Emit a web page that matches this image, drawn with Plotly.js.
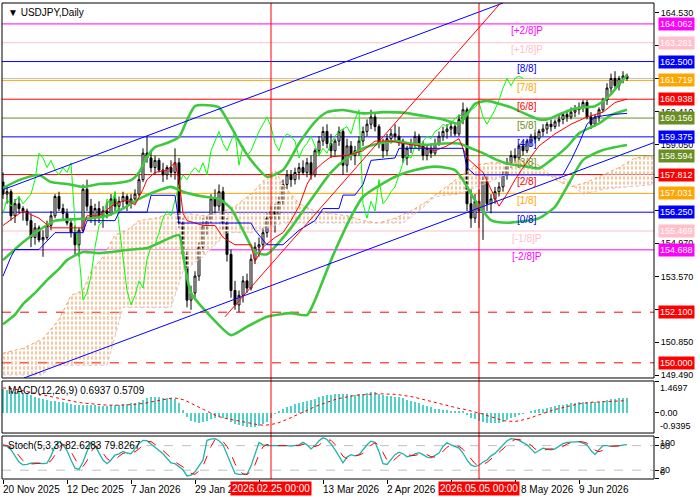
<!DOCTYPE html>
<html><head><meta charset="utf-8">
<script src="https://cdn.plot.ly/plotly-3.0.1.min.js"></script>
<style>html,body{margin:0;padding:0;background:#fff}#chart{width:700px;height:500px}</style>
</head><body><div id="chart"></div>
<script>
// ---------- price data (daily bars, index 0 = 20 Nov 2025) ----------
const open=[157.5,157.0,157.1,156.1,156.6,156.4,156.3,155.9,155.2,155.6,
155.1,155.2,155.7,156.1,156.9,156.4,156.2,155.8,155.4,154.9,
155.5,157.2,156.5,156.0,156.4,156.1,156.3,156.2,156.8,156.5,
156.7,156.9,156.6,156.8,157.0,157.6,158.7,158.5,158.1,158.4,
158.0,157.8,158.1,157.9,158.3,155.8,154.5,152.6,152.9,153.6,
154.8,155.7,155.9,156.8,156.5,157.1,155.8,154.5,153.0,152.4,
152.8,153.4,153.1,154.3,154.8,154.9,155.4,156.0,156.3,156.1,
156.7,157.4,157.8,157.6,157.9,158.1,157.9,158.3,157.8,158.8,
159.2,159.6,159.1,158.8,159.2,159.6,158.2,159.0,158.6,158.8,
159.2,159.6,159.9,160.2,159.8,159.1,158.8,159.3,159.5,159.4,
159.2,158.5,158.9,159.1,159.4,159.0,158.6,158.9,158.7,159.1,
159.4,159.6,159.7,159.8,159.5,160.1,160.5,156.6,156.0,156.7,
156.3,157.6,156.6,156.8,157.1,157.3,157.8,158.3,158.6,158.5,
159.0,158.8,159.2,159.4,159.3,159.6,159.7,159.9,159.8,160.0,
160.1,160.3,160.2,160.4,160.5,160.6,160.8,160.2,159.9,160.2,
160.5,160.9,161.4,161.8,161.5,161.8,161.9];
const high=[157.9,157.3,157.2,156.8,156.9,156.5,156.4,156.2,155.8,155.7,
155.5,155.9,156.3,157.0,157.1,156.6,156.4,156.0,155.7,155.6,
157.4,157.6,156.8,156.6,156.7,156.5,156.7,157.0,157.1,156.9,
157.1,157.0,157.0,157.2,157.8,158.9,159.4,158.8,158.6,158.5,
158.3,158.2,158.4,158.9,158.5,156.0,154.7,153.2,153.8,155.0,
156.0,156.1,157.0,157.2,157.4,157.3,156.0,154.7,153.4,153.0,
153.6,153.7,154.5,155.0,155.2,155.6,156.2,156.5,156.6,156.9,
157.6,158.0,158.0,158.1,158.3,158.4,158.5,158.6,158.9,159.4,
159.8,159.9,159.5,159.3,159.8,159.7,159.3,159.2,159.0,159.4,
159.8,160.1,160.5,160.4,159.9,159.3,159.5,159.7,159.9,159.8,
159.3,159.0,159.3,159.6,159.5,159.2,159.0,159.1,159.3,159.6,
159.8,159.9,160.0,159.9,160.3,160.8,160.6,157.2,157.0,157.2,
157.8,157.8,157.0,157.3,157.5,158.0,158.5,158.8,158.9,159.1,
159.2,159.3,159.5,159.6,159.7,159.9,160.0,160.1,160.1,160.3,
160.4,160.5,160.6,160.7,160.8,160.9,160.9,160.4,160.3,160.6,
161.0,161.6,162.0,162.1,161.9,162.1,162.0];
const low=[156.8,156.6,155.9,155.8,156.2,155.9,155.7,154.8,154.9,155.0,
154.4,155.1,155.5,156.0,156.3,155.9,155.7,155.2,154.5,154.4,
155.4,156.3,155.8,155.7,155.8,155.6,156.0,156.1,156.3,156.2,
156.4,156.3,156.4,156.6,156.9,157.5,158.3,157.9,157.8,157.9,
157.5,157.6,157.7,157.6,155.6,154.3,152.3,152.2,152.7,153.4,
154.6,155.3,155.8,156.2,156.3,155.5,154.2,152.7,152.2,152.1,
152.5,152.9,153.0,154.1,154.4,154.7,155.2,155.7,155.4,155.9,
156.5,157.2,157.3,157.4,157.6,157.8,157.7,157.6,157.7,158.6,
159.0,158.9,158.5,158.6,159.0,157.8,157.9,158.4,158.2,158.6,
159.0,159.4,159.7,159.6,158.9,158.5,158.6,159.1,159.2,159.0,
158.3,158.2,158.7,158.9,158.8,158.4,158.4,158.5,158.6,159.0,
159.2,159.3,159.4,159.4,159.4,159.9,156.3,155.6,155.8,155.6,
155.1,156.3,156.2,156.6,156.9,157.1,157.6,158.1,158.3,158.4,
158.6,158.7,159.0,159.1,159.2,159.4,159.5,159.6,159.7,159.8,
159.9,160.0,160.1,160.2,160.3,160.4,160.1,159.7,159.8,160.0,
160.4,160.7,161.2,161.3,161.3,161.6,161.7];
const close=[157.0,157.1,156.1,156.6,156.4,156.3,155.9,155.2,155.6,155.1,
155.2,155.7,156.1,156.9,156.4,156.2,155.8,155.4,154.9,155.5,
157.2,156.5,156.0,156.4,156.1,156.3,156.2,156.8,156.5,156.7,
156.9,156.6,156.8,157.0,157.6,158.7,158.5,158.1,158.4,158.0,
157.8,158.1,157.9,158.3,155.8,154.5,152.6,152.9,153.6,154.8,
155.7,155.9,156.8,156.5,157.1,155.8,154.5,153.0,152.4,152.8,
153.4,153.1,154.3,154.8,154.9,155.4,156.0,156.3,156.1,156.7,
157.4,157.8,157.6,157.9,158.1,157.9,158.3,157.8,158.8,159.2,
159.6,159.1,158.8,159.2,159.6,158.2,159.0,158.6,158.8,159.2,
159.6,159.9,160.2,159.8,159.1,158.8,159.3,159.5,159.4,159.2,
158.5,158.9,159.1,159.4,159.0,158.6,158.9,158.7,159.1,159.4,
159.6,159.7,159.8,159.5,160.1,160.5,156.6,156.0,156.7,156.3,
157.6,156.6,156.8,157.1,157.3,157.8,158.3,158.6,158.5,159.0,
158.8,159.2,159.4,159.3,159.6,159.7,159.9,159.8,160.0,160.1,
160.3,160.2,160.4,160.5,160.6,160.8,160.2,159.9,160.2,160.5,
160.9,161.4,161.8,161.5,161.8,161.9,161.8];

// ---------- Bollinger bands (read at sample bars) ----------
const bbUpIdx=[0,4,9,12,16,20,24,28,32,34,36,38,41,44,46,48,51,54,57,60,62,66,70,74,78,81,85,90,95,100,105,110,114,116,118,121,124,127,131,134,136,139,142,145,148,150,152,154,156];
const bbUpVal=[157.25,157.58,157.79,157.5,157.42,157.3,157.42,157.45,157.58,157.9,158.54,158.95,159.12,159.37,160.07,160.65,160.69,160.6,159.8,158.9,158.41,157.72,158.0,159.1,160.0,160.4,160.49,160.35,160.4,160.38,160.25,160.1,159.93,160.3,160.75,160.87,160.75,160.6,160.3,160.1,160.1,160.3,160.5,160.6,160.65,160.85,161.15,161.55,161.94];
const bbMidIdx=[0,5,9,13,17,22,26,30,34,38,42,45,50,54,57,60,63,66,69,72,75,78,82,86,90,94,98,102,106,110,114,117,120,123,126,131,134,137,141,144,149,152,156];
const bbMidVal=[154.26,155.0,155.5,155.9,155.95,156.0,156.1,156.4,156.8,157.1,157.3,157.1,156.9,156.8,156.4,155.5,154.6,154.5,155.0,155.6,156.3,157.0,157.9,158.5,158.9,159.1,159.2,159.1,159.05,159.1,159.1,158.9,158.7,158.45,158.27,158.14,158.07,158.41,158.96,159.52,159.93,160.28,160.5];
const bbLowIdx=[0,3,5,8,11,14,16,20,24,31,36,39,44,45,47,52,57,61,66,72,76,78,82,87,90,95,99,103,108,113,115,118,122,126,134,138,141,145,150,156];
const bbLowVal=[151.6,152.0,152.44,152.9,153.43,153.9,154.26,154.6,154.55,154.68,154.76,154.97,155.3,154.5,152.9,151.91,151.15,151.5,151.91,152.06,151.98,152.6,154.26,156.06,156.89,157.45,157.79,158.0,158.14,158.0,157.58,156.75,155.92,155.81,156.0,156.47,157.3,158.41,158.83,159.04];

// ---------- Ichimoku ----------
const tenIdx=[0,5,9,12,20,21,24,28,31,33,35,36,38,41,43,44,45,46,50,53,55,58,62,63,65,68,70,72,74,76,78,80,82,86,90,93,97,100,104,108,111,114,116,120,124,126,128,130,134,138,142,146,150,153,156];
const tenVal=[155.7,156.3,156.0,155.6,155.6,156.1,156.1,156.6,156.75,156.55,157.2,157.6,157.9,158.0,158.3,157.6,156.2,155.9,155.7,155.7,155.2,154.9,154.9,154.2,154.8,155.2,155.4,155.9,156.5,157.4,158.0,158.3,158.55,158.6,158.8,159.2,159.2,159.1,159.0,158.8,159.0,159.3,158.5,157.9,156.5,157.0,157.6,158.1,159.0,159.5,159.9,160.2,160.4,160.8,160.94];
const kijIdx=[0,2,3,9,13,20,21,28,29,36,37,43,44,62,63,66,70,72,74,78,80,84,85,88,90,92,98,99,115,116,118,140,142,144,146,148,152,156];
const kijVal=[153.6,154.4,154.7,154.7,155.4,155.4,155.9,155.9,156.25,156.25,156.95,156.95,155.8,155.8,155.5,154.9,154.9,155.2,155.5,155.9,156.4,156.4,156.96,156.96,157.4,158.4,158.5,158.9,158.9,158.1,157.8,157.8,158.4,159.1,159.9,160.2,160.3,160.35];
const spanAIdx=[0,5,10,14,17,20,22,25,28,31,34,38,42,46,50,54,58,62,66,68,70,74,78,82,86,90,94,98,102,106,110,114,118,122,126,130,134,138,142,146,150,154,158,163];
const spanAVal=[150.4,150.6,151.0,151.8,152.8,153.0,153.8,154.4,155.3,155.5,155.9,156.0,156.2,156.2,156.1,156.2,156.5,157.0,157.7,158.0,157.4,156.6,156.3,156.2,156.1,155.9,155.8,156.0,156.3,156.7,157.2,157.7,158.2,158.3,158.3,158.4,158.2,157.6,157.3,157.5,157.8,158.1,158.5,158.6];
const spanBIdx=[0,10,12,26,30,42,45,50,56,62,66,70,100,104,108,114,120,126,134,140,145,150,156,163];
const spanBVal=[149.5,149.5,149.9,149.9,152.3,152.3,153.8,154.4,155.4,155.4,155.6,155.8,155.8,156.3,156.9,157.0,157.4,157.8,157.8,157.7,157.0,157.2,157.3,157.4];
const chikouShift=26;

// ---------- trend lines ----------
const chanUpIdx=[-0.25,125], chanUpPx=[157.17,164.93];
const chanLowIdx=[5.25,162.75], chanLowPx=[149.37,159.14];
const redDiagIdx=[55.5,124.25], redDiagPx=[151.91,164.9];

// ---------- Murrey levels ----------
const levelPx=[164.062,163.281,162.500,161.719,160.938,160.156,159.375,158.594,157.812,157.031,156.250,155.469,154.688];
const levelName=['[+2/8]P','[+1/8]P','[8/8]','[7/8]','[6/8]','[5/8]','[4/8]','[3/8]','[2/8]','[1/8]','[0/8]','[-1/8]P','[-2/8]P'];
const levelColor=['#ff00ff','#ffc0cb','#0000ff','#ffa500','#ff0000','#6b8e23','#0000ff','#6b8e23','#ff0000','#ffa500','#0000ff','#ffc0cb','#ff00ff'];
const dashPx=[152.100,150.000];
const bidPx=161.80;
const priceTicks=[164.53,163.17,161.79,160.41,159.05,157.69,156.33,154.97,153.57,152.21,150.85,149.49];
const priceTickText=['164.530','','','160.410','159.050','','','154.970','153.570','','150.850','149.490'];

// ---------- MACD (12,26,9) ----------
const macdMain=[1.10,1.08,1.02,0.98,0.95,0.92,0.88,0.82,0.76,0.70,
0.64,0.60,0.57,0.55,0.52,0.50,0.47,0.42,0.38,0.36,
0.38,0.38,0.36,0.35,0.34,0.34,0.33,0.35,0.36,0.37,
0.40,0.42,0.44,0.45,0.50,0.62,0.70,0.72,0.73,0.72,
0.70,0.69,0.67,0.65,0.45,0.15,-0.20,-0.35,-0.42,-0.45,
-0.40,-0.36,-0.28,-0.24,-0.18,-0.22,-0.30,-0.42,-0.52,-0.58,
-0.62,-0.66,-0.66,-0.64,-0.60,-0.52,-0.40,-0.25,-0.05,0.08,
0.18,0.28,0.34,0.40,0.46,0.50,0.55,0.58,0.64,0.72,
0.80,0.84,0.85,0.87,0.90,0.86,0.86,0.85,0.85,0.87,
0.90,0.93,0.96,0.95,0.90,0.84,0.80,0.78,0.76,0.74,
0.68,0.62,0.56,0.50,0.44,0.38,0.32,0.26,0.20,0.17,
0.14,0.12,0.10,0.08,0.07,0.08,-0.10,-0.25,-0.30,-0.38,
-0.40,-0.46,-0.48,-0.48,-0.45,-0.40,-0.33,-0.25,-0.18,-0.10,
-0.04,0.02,0.08,0.12,0.16,0.20,0.24,0.28,0.32,0.35,
0.38,0.41,0.44,0.47,0.50,0.52,0.53,0.50,0.50,0.52,
0.55,0.60,0.64,0.66,0.68,0.69,0.6937];
const macdSignal=[1.16,1.15,1.13,1.10,1.07,1.03,0.99,0.95,0.90,0.86,
0.81,0.77,0.73,0.69,0.65,0.62,0.58,0.55,0.51,0.48,
0.46,0.44,0.42,0.40,0.38,0.37,0.36,0.36,0.35,0.35,
0.36,0.37,0.38,0.39,0.41,0.44,0.47,0.51,0.55,0.58,
0.62,0.65,0.68,0.69,0.67,0.62,0.54,0.45,0.35,0.25,
0.15,0.06,-0.03,-0.10,-0.17,-0.23,-0.27,-0.30,-0.33,-0.36,
-0.40,-0.44,-0.48,-0.52,-0.55,-0.57,-0.56,-0.54,-0.50,-0.45,
-0.38,-0.30,-0.22,-0.13,-0.04,0.05,0.13,0.21,0.29,0.36,
0.43,0.50,0.56,0.62,0.67,0.71,0.75,0.78,0.81,0.83,
0.85,0.86,0.87,0.88,0.89,0.89,0.88,0.87,0.86,0.84,
0.82,0.79,0.76,0.72,0.68,0.64,0.59,0.54,0.49,0.44,
0.39,0.34,0.29,0.25,0.21,0.18,0.14,0.10,0.05,0.00,
-0.05,-0.12,-0.18,-0.24,-0.30,-0.35,-0.38,-0.39,-0.39,-0.37,
-0.33,-0.28,-0.22,-0.15,-0.08,-0.02,0.04,0.10,0.16,0.21,
0.26,0.30,0.34,0.38,0.42,0.45,0.47,0.49,0.50,0.51,
0.52,0.53,0.54,0.55,0.56,0.57,0.5709];

// ---------- Stochastic (5,3,3) ----------
const stochMain=[80,78,70,55,40,33,34,37,38,37,
36,37,55,78,90,82,68,45,25,22,
40,66,87,80,62,45,36,45,57,60,
66,62,60,72,85,93,92,84,75,68,
60,50,38,36,28,21,6,8,16,30,
45,93,96,97,92,82,60,37,12,10,
10,10,30,60,88,82,80,80,80,81,
80,80,79,80,82,88,82,72,80,92,
99,95,84,70,55,38,52,58,55,58,
70,82,91,88,65,36,34,45,58,64,
60,53,55,60,63,58,52,50,55,62,
78,87,82,78,74,62,45,33,29,32,
40,45,55,61,72,82,92,97,96,93,
88,82,72,62,68,74,72,70,72,78,
85,88,89,90,90,86,82,68,58,70,
80,80,78,79,80,81,82.63];
const stochSignal=[82,80,76,68,55,43,36,35,36,37,
37,37,43,57,74,83,80,65,46,31,
29,43,64,78,76,62,48,42,46,54,
61,63,63,65,72,83,90,90,84,76,
68,59,49,41,34,28,18,12,10,18,
30,56,78,95,95,90,78,60,36,20,
11,10,17,33,59,77,83,81,80,80,
80,80,80,80,80,83,84,81,78,81,
90,95,93,83,70,54,48,49,55,57,
61,70,81,87,81,63,45,38,46,56,
61,59,56,56,59,60,58,53,52,56,
65,76,82,82,78,71,60,47,36,31,
34,39,47,54,63,72,82,90,95,95,
92,88,81,72,67,68,71,72,71,73,
78,84,87,89,90,89,86,79,69,65,
69,77,79,79,79,80,79.83];
const stochLevels=[80,20];

// ---------- time axis ----------
const dateIdx=[0,16,32,48,64,80,96,112,128,144];
// visible part of each label (others are covered by the crosshair date boxes)
const dateLabIdx=[0,16,32,48,80,96,129.5,144];
const dateText=['20 Nov 2025','12 Dec 2025','7 Jan 2026','29 Jan 20','13 Mar 2026','2 Apr 2026','8 May 2026','9 Jun 2026'];
const crossIdx=[67,119];
const crossText=['2026.02.25 00:00','2026.05.05 00:00'];

// ================= build =================
const bars=close.map((_,i)=>i);
const FONT='Liberation Sans, Arial, sans-serif';
const traces=[];
// cloud: vertical hatch, broken into dashes by a white horizontal hatch
traces.push({x:spanBIdx,y:spanBVal,type:'scatter',mode:'lines',line:{color:'#d8bfd8',width:0},xaxis:'x',yaxis:'y'});
traces.push({x:spanAIdx,y:spanAVal,type:'scatter',mode:'lines',line:{color:'#f4a460',width:0},fill:'tonexty',fillcolor:'rgba(255,255,255,0)',
  fillpattern:{shape:'|',fgcolor:'#ee9a55',bgcolor:'rgba(255,255,255,0)',size:4,solidity:0.28,fgopacity:1},xaxis:'x',yaxis:'y'});
traces.push({x:spanBIdx,y:spanBVal,type:'scatter',mode:'lines',line:{color:'#d8bfd8',width:0},xaxis:'x',yaxis:'y'});
traces.push({x:spanAIdx,y:spanAVal,type:'scatter',mode:'lines',line:{color:'#f4a460',width:0},fill:'tonexty',fillcolor:'rgba(255,255,255,0)',
  fillpattern:{shape:'-',fgcolor:'#ffffff',bgcolor:'rgba(255,255,255,0)',size:5,solidity:0.35,fgopacity:1},xaxis:'x',yaxis:'y'});
traces.push({x:spanBIdx,y:spanBVal,type:'scatter',mode:'lines',line:{color:'#d8bfd8',width:1,dash:'dot'},xaxis:'x',yaxis:'y'});
traces.push({x:spanAIdx,y:spanAVal,type:'scatter',mode:'lines',line:{color:'#f4a460',width:1,dash:'dot'},xaxis:'x',yaxis:'y'});
// candles
traces.push({type:'candlestick',x:bars,open:open,high:high,low:low,close:close,xaxis:'x',yaxis:'y',whiskerwidth:0,
  increasing:{line:{color:'#000',width:1},fillcolor:'#fff'},decreasing:{line:{color:'#000',width:1},fillcolor:'#000'}});
// chikou
traces.push({x:bars.map(i=>i-chikouShift),y:close,type:'scatter',mode:'lines',line:{color:'#00ff00',width:1},xaxis:'x',yaxis:'y'});
// Bollinger
[[bbUpIdx,bbUpVal],[bbMidIdx,bbMidVal],[bbLowIdx,bbLowVal]].forEach(([xs,ys])=>{
  traces.push({x:xs,y:ys,type:'scatter',mode:'lines',line:{color:'#3ec83e',width:2.6,shape:'spline',smoothing:0.6},xaxis:'x',yaxis:'y'});
});
// tenkan / kijun
traces.push({x:tenIdx,y:tenVal,type:'scatter',mode:'lines',line:{color:'#ff0000',width:1},xaxis:'x',yaxis:'y'});
traces.push({x:kijIdx,y:kijVal,type:'scatter',mode:'lines',line:{color:'#0000ff',width:1},xaxis:'x',yaxis:'y'});
// trend lines
traces.push({x:chanUpIdx,y:chanUpPx,type:'scatter',mode:'lines',line:{color:'#0000ff',width:1},xaxis:'x',yaxis:'y'});
traces.push({x:chanLowIdx,y:chanLowPx,type:'scatter',mode:'lines',line:{color:'#0000ff',width:1},xaxis:'x',yaxis:'y'});
traces.push({x:redDiagIdx,y:redDiagPx,type:'scatter',mode:'lines',line:{color:'#ff0000',width:1},xaxis:'x',yaxis:'y'});
// MACD
traces.push({x:bars,y:macdMain,type:'bar',width:0.45,marker:{color:'#4fd1c5',opacity:1,line:{width:0}},xaxis:'x',yaxis:'y2'});
traces.push({x:bars,y:macdSignal,type:'scatter',mode:'lines',line:{color:'#ff0000',width:1,dash:'dot'},xaxis:'x',yaxis:'y2'});
// Stochastic
traces.push({x:bars,y:stochMain,type:'scatter',mode:'lines',line:{color:'#20b2aa',width:1.3},xaxis:'x',yaxis:'y3'});
traces.push({x:bars,y:stochSignal,type:'scatter',mode:'lines',line:{color:'#ff0000',width:1,dash:'dash'},xaxis:'x',yaxis:'y3'});

const mainDom=[0.2122,1], macdDom=[0.0966,0.2059], stochDom=[0,0.0903];
const shapes=[];
levelPx.forEach((p,i)=>shapes.push({type:'line',xref:'paper',x0:0,x1:1,yref:'y',y0:p,y1:p,line:{color:levelColor[i],width:1},layer:'below'}));
dashPx.forEach(p=>shapes.push({type:'line',xref:'paper',x0:0,x1:1,yref:'y',y0:p,y1:p,line:{color:'#ff0000',width:1,dash:'dash'},layer:'below'}));
shapes.push({type:'line',xref:'paper',x0:0,x1:1,yref:'y',y0:bidPx,y1:bidPx,line:{color:'#c0c0c0',width:1},layer:'below'});
stochLevels.forEach(v=>shapes.push({type:'line',xref:'paper',x0:0,x1:1,yref:'y3',y0:v,y1:v,line:{color:'#c0c0c0',width:1,dash:'dash'},layer:'below'}));
crossIdx.forEach(c=>shapes.push({type:'line',xref:'x',x0:c,x1:c,yref:'paper',y0:0,y1:1,line:{color:'#ff0000',width:1}}));
[mainDom,macdDom,stochDom].forEach(d=>shapes.push({type:'rect',xref:'paper',x0:0,x1:1,yref:'paper',y0:d[0],y1:d[1],line:{color:'#000',width:1},fillcolor:'rgba(0,0,0,0)'}));

const ann=[];
// Murrey text labels
levelPx.forEach((p,i)=>ann.push({xref:'x',x:131,yref:'y',y:p,yshift:-7,text:levelName[i],showarrow:false,font:{family:FONT,size:10,color:levelColor[i]},xanchor:'center',yanchor:'middle'}));
// right price boxes
levelPx.forEach((p,i)=>ann.push({xref:'paper',x:1,xshift:4,xanchor:'left',yref:'y',y:p,yanchor:'middle',text:p.toFixed(3),showarrow:false,bgcolor:levelColor[i],borderpad:1,font:{family:FONT,size:9,color:'#fff'}}));
dashPx.forEach(p=>ann.push({xref:'paper',x:1,xshift:4,xanchor:'left',yref:'y',y:p,yanchor:'middle',text:p.toFixed(3),showarrow:false,bgcolor:'#ff0000',borderpad:1,font:{family:FONT,size:9,color:'#fff'}}));
// MACD / Stoch labels
const sideLab=(yref,y,t,ya)=>({xref:'paper',x:1,xshift:4,xanchor:'left',yref:yref,y:y,yanchor:ya,text:t,showarrow:false,font:{family:FONT,size:9,color:'#000'}});
ann.push(sideLab('y2',1.48,'1.4697','top'));
ann.push(sideLab('y2',0,'0.00','middle'));
ann.push(sideLab('y2',-0.93,'-0.9395','bottom'));
ann.push(sideLab('y3',80,'80','middle'));
ann.push(sideLab('y3',103.5,'100','top'));
ann.push(sideLab('y3',20,'20','middle'));
ann.push(sideLab('y3',-1.5,'0','bottom'));
// panel titles
ann.push({xref:'paper',x:0,xshift:4,xanchor:'left',yref:'paper',y:1,yshift:-2,yanchor:'top',text:'▼ USDJPY,Daily',showarrow:false,font:{family:FONT,size:10,color:'#000'}});
ann.push({xref:'paper',x:0,xshift:4,xanchor:'left',yref:'paper',y:macdDom[1],yshift:-2,yanchor:'top',text:'MACD(12,26,9) 0.6937 0.5709',showarrow:false,font:{family:FONT,size:10,color:'#000'}});
ann.push({xref:'paper',x:0,xshift:4,xanchor:'left',yref:'paper',y:stochDom[1],yshift:-2,yanchor:'top',text:'Stoch(5,3,3) 82.6283 79.8267',showarrow:false,font:{family:FONT,size:10,color:'#000'}});
// dates
dateLabIdx.forEach((d,i)=>ann.push({xref:'x',x:d,xanchor:'left',xshift:-2,yref:'paper',y:0,yshift:-3,yanchor:'top',text:dateText[i],showarrow:false,font:{family:FONT,size:10,color:'#000'}}));
crossIdx.forEach((c,i)=>ann.push({xref:'x',x:c,xanchor:'center',yref:'paper',y:0,yshift:-2,yanchor:'top',text:crossText[i],showarrow:false,bgcolor:'#ff0000',borderpad:1,font:{family:FONT,size:10,color:'#fff'}}));

const layout={width:700,height:500,margin:{l:2,r:46,t:3,b:21,pad:0},paper_bgcolor:'#fff',plot_bgcolor:'#fff',showlegend:false,
  font:{family:FONT,size:9,color:'#000'},bargap:0,
  xaxis:{range:[-0.25,162.75],anchor:'y3',showgrid:false,zeroline:false,showline:false,ticks:'outside',ticklen:4,tickcolor:'#000',
    tickvals:dateIdx,showticklabels:false,rangeslider:{visible:false}},
  yaxis:{domain:mainDom,range:[149.37,164.93],side:'right',anchor:'x',showgrid:false,zeroline:false,showline:false,ticks:'outside',ticklen:4,tickcolor:'#000',
    tickvals:priceTicks,ticktext:priceTickText,tickfont:{family:FONT,size:9,color:'#000'}},
  yaxis2:{domain:macdDom,range:[-0.93,1.48],side:'right',anchor:'x',showgrid:false,zeroline:false,showline:false,ticks:'outside',ticklen:4,tickcolor:'#000',
    tickvals:[1.4697,0,-0.9395],showticklabels:false},
  yaxis3:{domain:stochDom,range:[-1.5,103.5],side:'right',anchor:'x',showgrid:false,zeroline:false,showline:false,ticks:'outside',ticklen:4,tickcolor:'#000',
    tickvals:[100,80,20,0],showticklabels:false},
  shapes:shapes,annotations:ann};
Plotly.newPlot('chart',traces,layout,{staticPlot:true,displayModeBar:false});
</script></body></html>
